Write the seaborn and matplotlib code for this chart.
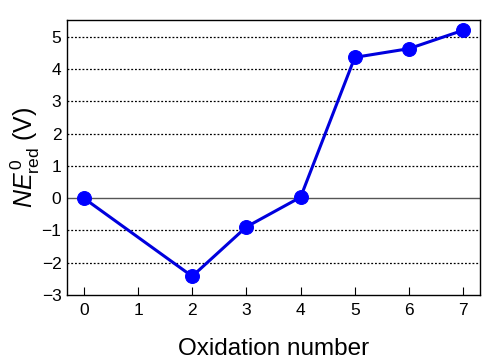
import numpy as np
import pandas as pd
import matplotlib as mpl
import matplotlib.pyplot as plt
import seaborn as sns

sns.set_style("ticks")
plt.rcParams['font.family'] = ['Liberation Sans', 'DejaVu Sans']
plt.rcParams['mathtext.fontset'] = 'custom'
plt.rcParams['mathtext.rm'] = 'Liberation Sans'
plt.rcParams['mathtext.it'] = 'Liberation Sans:italic'
plt.rcParams['text.color'] = 'black'
plt.rcParams['axes.labelcolor'] = 'black'
plt.rcParams['xtick.color'] = 'black'
plt.rcParams['ytick.color'] = 'black'

# data
oxidation = [0, 2, 3, 4, 5, 6, 7]
ne_red = [0.0, -2.42, -0.89, 0.03, 4.36, 4.63, 5.20]
df = pd.DataFrame({"ox": oxidation, "ne": ne_red})

fig, ax = plt.subplots(figsize=(5.0, 3.62), dpi=100)
fig.subplots_adjust(left=0.134, right=0.96, top=0.945, bottom=0.185)

# gridlines
for y in range(-3, 6):
    if y == 0:
        ax.axhline(0, color="#555555", lw=1.0, zorder=1)
    elif y > -3:
        ax.axhline(y, color="black", lw=0.9, ls=(0, (1.5, 1.5)), zorder=1)

sns.lineplot(data=df, x="ox", y="ne", ax=ax, color="#0000dd", lw=2.2,
             marker="o", markersize=10, markerfacecolor="#0000ff",
             markeredgecolor="#0000ff", zorder=3)

ax.set_xlim(-0.31, 7.31)
ax.set_ylim(-3, 5.52)
ax.set_xticks(range(0, 8))
ax.set_yticks(range(-3, 6))
ax.set_yticklabels([str(v).replace("-", "\u2212") for v in range(-3, 6)])
ax.tick_params(axis="x", direction="in", length=6, width=0.8, labelsize=12.5, pad=6)
ax.tick_params(axis="y", length=0, labelsize=12.5, pad=4)
for s in ax.spines.values():
    s.set_linewidth(1.0)
    s.set_color("black")

ax.set_xlabel("Oxidation number", fontsize=17.5, labelpad=14)
ax.set_ylabel(r"$NE^{\,0}_{\mathrm{red}}$ (V)", fontsize=18, labelpad=0)

fig.savefig("out.png", dpi=100)
